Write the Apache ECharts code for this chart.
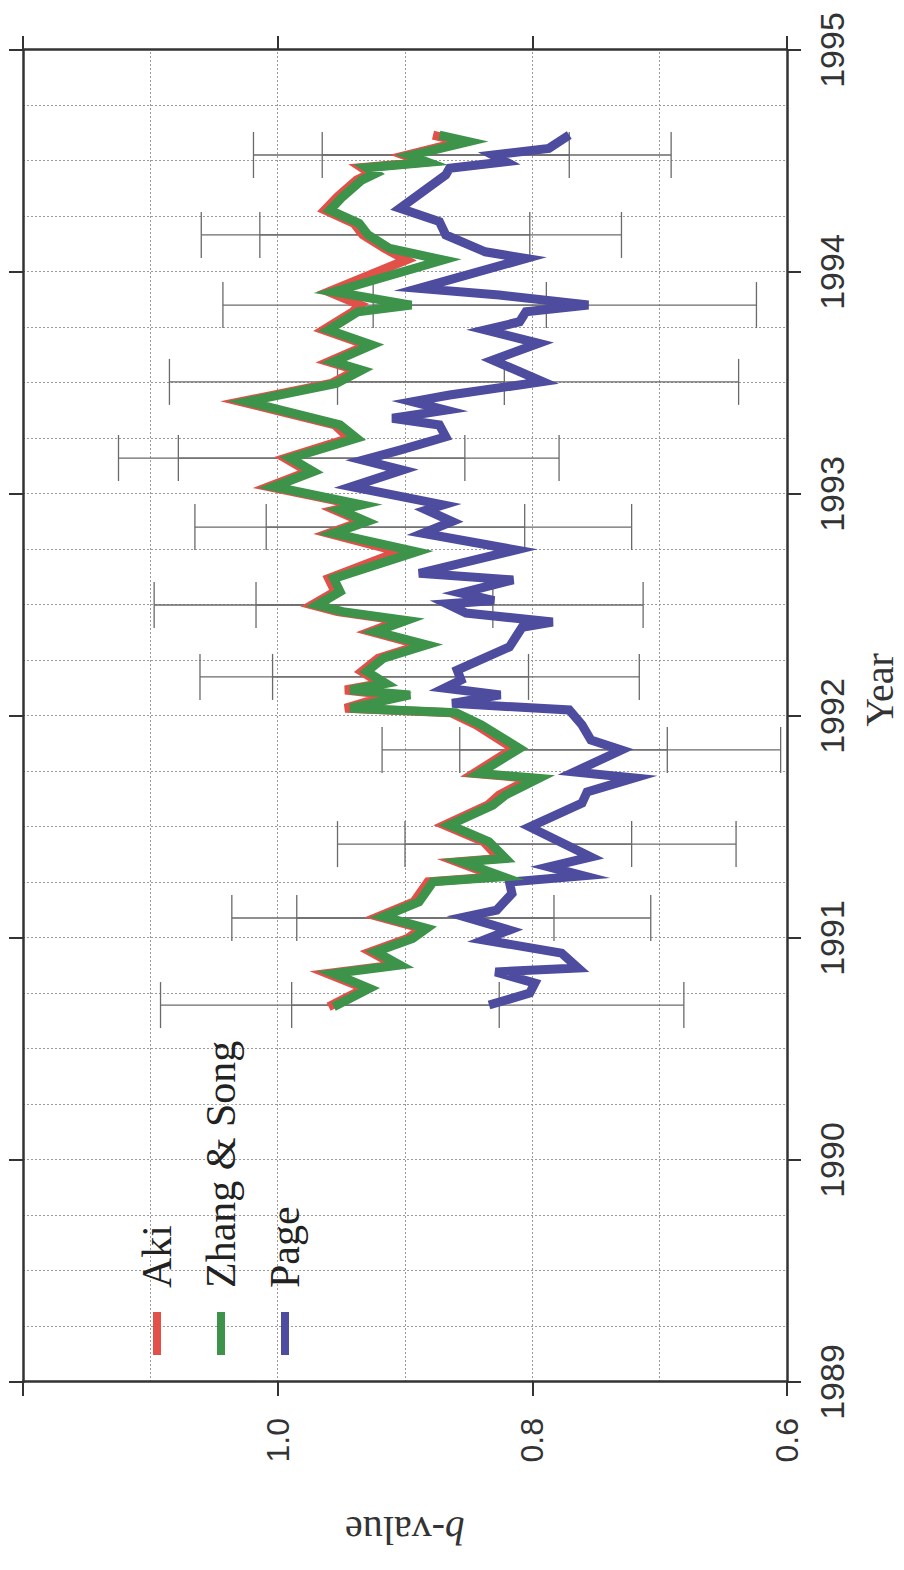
<!DOCTYPE html>
<html>
<head>
<meta charset="utf-8">
<title>b-value</title>
<script src="https://cdn.jsdelivr.net/npm/echarts@6/dist/echarts.min.js"></script>
<style>
  html, body { margin: 0; padding: 0; background: #fff; overflow: hidden; }
  #wrap { position: relative; width: 904px; height: 1570px; overflow: hidden; }
  /* chart is drawn in its natural orientation, then turned a quarter left */
  #chart { position: absolute; left: 0; top: 0; width: 1570px; height: 904px;
           transform-origin: 0 0; transform: translateY(1570px) rotate(-90deg); }
</style>
</head>
<body>
<div id="wrap"><div id="chart"></div></div>
<script>
// time of each estimate (decimal year) for Aki and Zhang & Song
const lineYears = [1990.69, 1990.773, 1990.84, 1990.878, 1990.938, 1990.998, 1991.043, 1991.096, 1991.163, 1991.253,
  1991.276, 1991.343, 1991.358, 1991.433, 1991.509, 1991.599, 1991.644, 1991.719, 1991.741, 1991.854,
  1991.96, 1992.015, 1992.035, 1992.095, 1992.117, 1992.147, 1992.2, 1992.26, 1992.32, 1992.38,
  1992.43, 1992.47, 1992.5, 1992.56, 1992.62, 1992.74, 1992.823, 1992.876, 1992.928, 1992.951,
  1993.033, 1993.101, 1993.161, 1993.251, 1993.311, 1993.416, 1993.498, 1993.558, 1993.596, 1993.671,
  1993.739, 1993.821, 1993.851, 1993.911, 1994.054, 1994.106, 1994.167, 1994.219, 1994.279, 1994.339,
  1994.414, 1994.444, 1994.47, 1994.494, 1994.524, 1994.587, 1994.617];
const akiB = [0.960, 0.932, 0.961, 0.908, 0.927, 0.898, 0.887, 0.921, 0.893, 0.882,
  0.828, 0.859, 0.826, 0.838, 0.869, 0.835, 0.826, 0.801, 0.846, 0.815,
  0.844, 0.864, 0.947, 0.912, 0.947, 0.919, 0.934, 0.921, 0.888, 0.927,
  0.904, 0.953, 0.973, 0.955, 0.960, 0.905, 0.960, 0.934, 0.955, 0.938,
  1.007, 0.976, 0.994, 0.944, 0.955, 1.029, 0.958, 0.938, 0.960, 0.930,
  0.964, 0.941, 0.935, 0.960, 0.899, 0.916, 0.933, 0.940, 0.963, 0.953,
  0.938, 0.927, 0.934, 0.886, 0.900, 0.856, 0.878];
const zhangB = [0.956, 0.928, 0.956, 0.904, 0.923, 0.894, 0.883, 0.917, 0.889, 0.878,
  0.823, 0.855, 0.821, 0.834, 0.865, 0.831, 0.821, 0.795, 0.842, 0.810,
  0.840, 0.860, 0.943, 0.896, 0.943, 0.915, 0.930, 0.917, 0.883, 0.923,
  0.899, 0.949, 0.969, 0.951, 0.956, 0.891, 0.956, 0.930, 0.951, 0.934,
  1.003, 0.972, 0.990, 0.938, 0.951, 1.024, 0.954, 0.934, 0.956, 0.926,
  0.960, 0.937, 0.895, 0.956, 0.870, 0.912, 0.929, 0.936, 0.959, 0.949,
  0.934, 0.923, 0.930, 0.882, 0.896, 0.850, 0.873];

// Page estimates
const pageYears = [1990.698, 1990.752, 1990.797, 1990.847, 1990.865, 1990.932, 1990.991, 1991.036, 1991.095, 1991.126,
  1991.2, 1991.252, 1991.28, 1991.32, 1991.365, 1991.5, 1991.608, 1991.658, 1991.721, 1991.748,
  1991.847, 1991.892, 1991.96, 1992.027, 1992.057, 1992.095, 1992.126, 1992.162, 1992.207, 1992.311,
  1992.4, 1992.423, 1992.464, 1992.505, 1992.52, 1992.554, 1992.613, 1992.643, 1992.748, 1992.823,
  1992.876, 1992.928, 1992.951, 1993.033, 1993.108, 1993.153, 1993.198, 1993.258, 1993.311, 1993.341,
  1993.378, 1993.416, 1993.446, 1993.506, 1993.551, 1993.603, 1993.679, 1993.739, 1993.776, 1993.821,
  1993.851, 1993.896, 1993.926, 1994.061, 1994.091, 1994.167, 1994.227, 1994.287, 1994.437, 1994.467,
  1994.497, 1994.527, 1994.557, 1994.617];
const pageB = [0.834, 0.802, 0.798, 0.829, 0.764, 0.777, 0.838, 0.818, 0.853, 0.828,
  0.816, 0.818, 0.760, 0.787, 0.754, 0.802, 0.761, 0.757, 0.720, 0.767,
  0.730, 0.754, 0.761, 0.771, 0.863, 0.825, 0.869, 0.856, 0.859, 0.818,
  0.808, 0.784, 0.852, 0.867, 0.830, 0.856, 0.815, 0.889, 0.813, 0.886,
  0.863, 0.883, 0.870, 0.942, 0.902, 0.933, 0.904, 0.868, 0.873, 0.910,
  0.868, 0.894, 0.865, 0.792, 0.810, 0.831, 0.795, 0.837, 0.810, 0.805,
  0.756, 0.826, 0.889, 0.805, 0.837, 0.868, 0.873, 0.904, 0.868, 0.865,
  0.821, 0.831, 0.787, 0.771];

// error bars
const errYears = [1990.698, 1991.09, 1991.423, 1991.847, 1992.176, 1992.5, 1992.851, 1993.162, 1993.505, 1993.851, 1994.167, 1994.527];
const akiHigh = [1.092, 1.036, 0.953, 0.918, 1.061, 1.097, 1.065, 1.125, 1.085, 1.043, 1.060, 1.019];
const akiLow = [0.826, 0.783, 0.722, 0.694, 0.803, 0.831, 0.806, 0.853, 0.822, 0.789, 0.802, 0.771];
const pageHigh = [0.989, 0.985, 0.900, 0.857, 1.004, 1.017, 1.009, 1.078, 0.953, 0.925, 1.014, 0.965];
const pageLow = [0.681, 0.707, 0.640, 0.605, 0.716, 0.713, 0.722, 0.779, 0.638, 0.624, 0.730, 0.691];

const yearTicks = [1989, 1990, 1991, 1992, 1993, 1994, 1995];
const bTicks = ['0.6', '0.8', '1.0'];

const frame = { show: true, onZero: false, lineStyle: { color: '#333', width: 2.5 } };
const tick = { show: true, length: 14, lineStyle: { color: '#333', width: 2 } };
const grid = { show: true, lineStyle: { color: '#9a9a9a', width: 1, type: [2, 2] } };

const pairs = (xs, ys) => xs.map((x, i) => [x, ys[i]]);

function errorBar(params, api) {
  const a = api.coord([api.value(0), api.value(1)]);
  const b = api.coord([api.value(0), api.value(2)]);
  const cap = 23;
  const style = { stroke: '#6a6a6a', lineWidth: 1.3 };
  return {
    type: 'group',
    children: [
      { type: 'line', shape: { x1: a[0], y1: a[1], x2: b[0], y2: b[1] }, style },
      { type: 'line', shape: { x1: a[0] - cap, y1: a[1], x2: a[0] + cap, y2: a[1] }, style },
      { type: 'line', shape: { x1: b[0] - cap, y1: b[1], x2: b[0] + cap, y2: b[1] }, style }
    ]
  };
}

const lineSeries = (name, color, data) => ({
  name, type: 'line', data, symbol: 'none', color,
  lineStyle: { width: 9, color, join: 'miter', miterLimit: 6 }
});

const chart = echarts.init(document.getElementById('chart'), null, { renderer: 'svg' });
chart.setOption({
  animation: false,
  backgroundColor: '#fff',
  textStyle: { fontFamily: 'Liberation Sans' },
  grid: { left: 188, right: 50, top: 23, bottom: 115 },
  legend: {
    orient: 'vertical', left: 210, top: 130,
    data: ['Aki', 'Zhang & Song', 'Page'],
    icon: 'rect', itemWidth: 43, itemHeight: 8, itemGap: 20,
    textStyle: { fontFamily: 'Liberation Serif', fontSize: 42, lineHeight: 44, color: '#222', padding: [0, 0, 0, 19] }
  },
  xAxis: [{
    type: 'value', min: 1989, max: 1995, interval: 1, position: 'bottom',
    axisLine: frame, axisTick: tick,
    axisLabel: { fontSize: 34, color: '#333', margin: 28, formatter: v => yearTicks.includes(v) ? String(v) : '' },
    splitLine: grid,
    minorTick: { show: false, splitNumber: 4 },
    minorSplitLine: grid,
    name: 'Year', nameLocation: 'middle', nameGap: 72,
    nameTextStyle: { fontFamily: 'Liberation Serif', fontSize: 40, color: '#333', padding: [0, 0, 0, 52] }
  }, {
    type: 'value', min: 1989, max: 1995, interval: 1, position: 'top',
    axisLine: frame, axisTick: tick, axisLabel: { show: false }, splitLine: { show: false }
  }],
  yAxis: [{
    type: 'value', min: 0.6, max: 1.2, interval: 0.2, position: 'left',
    axisLine: frame, axisTick: tick,
    axisLabel: { fontSize: 32, color: '#333', margin: 36,
      formatter: v => bTicks.includes(v.toFixed(1)) ? v.toFixed(1) : '' },
    splitLine: grid,
    minorTick: { show: false, splitNumber: 2 },
    minorSplitLine: grid,
    name: '{i|b}-value', nameLocation: 'middle', nameGap: 128,
    nameTextStyle: { fontFamily: 'Liberation Serif', fontSize: 40, color: '#333',
      rich: { i: { fontFamily: 'Liberation Serif', fontStyle: 'italic', fontSize: 40, color: '#333' } } }
  }, {
    type: 'value', min: 0.6, max: 1.2, interval: 0.2, position: 'right',
    axisLine: frame, axisTick: tick, axisLabel: { show: false }, splitLine: { show: false }
  }],
  series: [
    { type: 'custom', name: 'err-aki', renderItem: errorBar, silent: true, z: 1,
      data: errYears.map((t, i) => [t, akiLow[i], akiHigh[i]]) },
    { type: 'custom', name: 'err-page', renderItem: errorBar, silent: true, z: 1,
      data: errYears.map((t, i) => [t, pageLow[i], pageHigh[i]]) },
    lineSeries('Page', '#4e4c9f', pairs(pageYears, pageB)),
    lineSeries('Aki', '#e2504a', pairs(lineYears, akiB)),
    lineSeries('Zhang & Song', '#3e934a', pairs(lineYears, zhangB))
  ]
});
</script>
</body>
</html>
